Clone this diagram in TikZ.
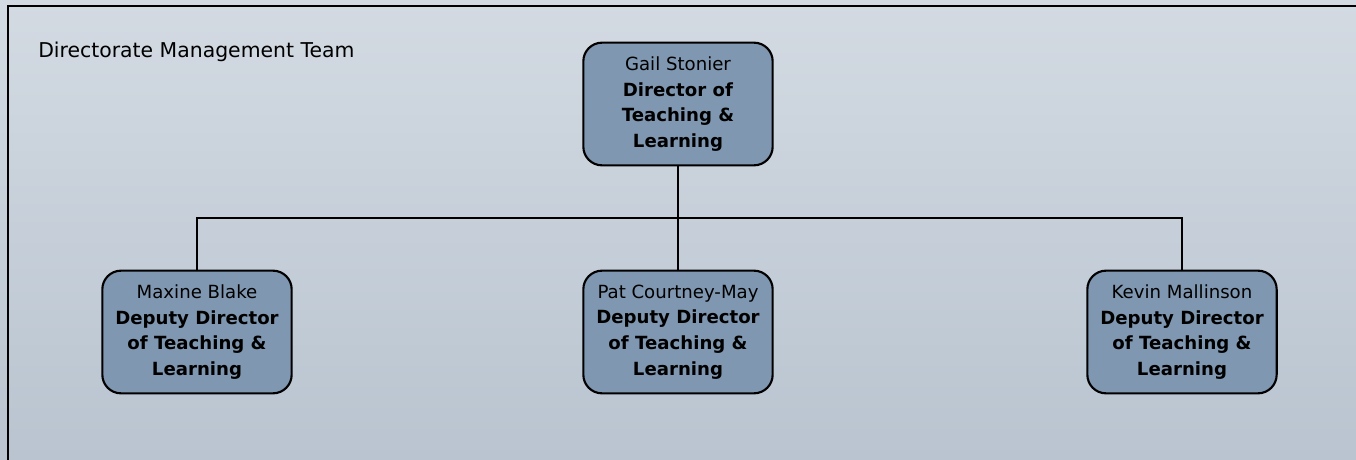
\documentclass[tikz,border=0pt]{standalone}
\usepackage{fontspec}
\setmainfont{DejaVu Sans}
\usetikzlibrary{positioning}
\definecolor{bgtop}{HTML}{D3DAE2}
\definecolor{bgbottom}{HTML}{B9C4D0}
\definecolor{boxfill}{HTML}{7F97B0}
\begin{document}
\begin{tikzpicture}[x=0.75pt,y=-0.75pt,
		staff/.style = {shape=rectangle, rounded corners=14pt,
			draw, line width=1.6pt, align=center, fill=boxfill,
			minimum width=142pt, minimum height=92pt, inner sep=2pt,
			font=\fontsize{13.6}{19.2}\selectfont},
		link/.style = {line width=1.5pt}]
	\useasboundingbox (0,0) rectangle (1356,460);
	\clip (0,0) rectangle (1356,460);
	\fill[top color=bgtop, bottom color=bgbottom] (0,0) rectangle (1356,460);
	\draw[line width=2pt] (8,480) -- (8,6) -- (1380,6);
	\node[anchor=base west, inner sep=0pt, font=\fontsize{15.3}{18}\selectfont] (team) at (38,58) {Directorate Management Team};
	% director and deputies
	\node[staff] (director) at (678,104) {Gail Stonier\\\textbf{Director of}\\\textbf{Teaching \&}\\\textbf{Learning}};
	\node[staff] (maxine) at (197,332) {Maxine Blake\\\textbf{Deputy Director}\\\textbf{of Teaching \&}\\\textbf{Learning}};
	\node[staff] (pat) at (678,332) {Pat Courtney-May\\\textbf{Deputy Director}\\\textbf{of Teaching \&}\\\textbf{Learning}};
	\node[staff] (kevin) at (1182,332) {Kevin Mallinson\\\textbf{Deputy Director}\\\textbf{of Teaching \&}\\\textbf{Learning}};
	\coordinate (bar) at (678,218);
	\draw[link] (director.south) -- (bar);
	\draw[link] (bar) -| (maxine.north);
	\draw[link] (bar) -- (pat.north);
	\draw[link] (bar) -| (kevin.north);
\end{tikzpicture}
\end{document}
